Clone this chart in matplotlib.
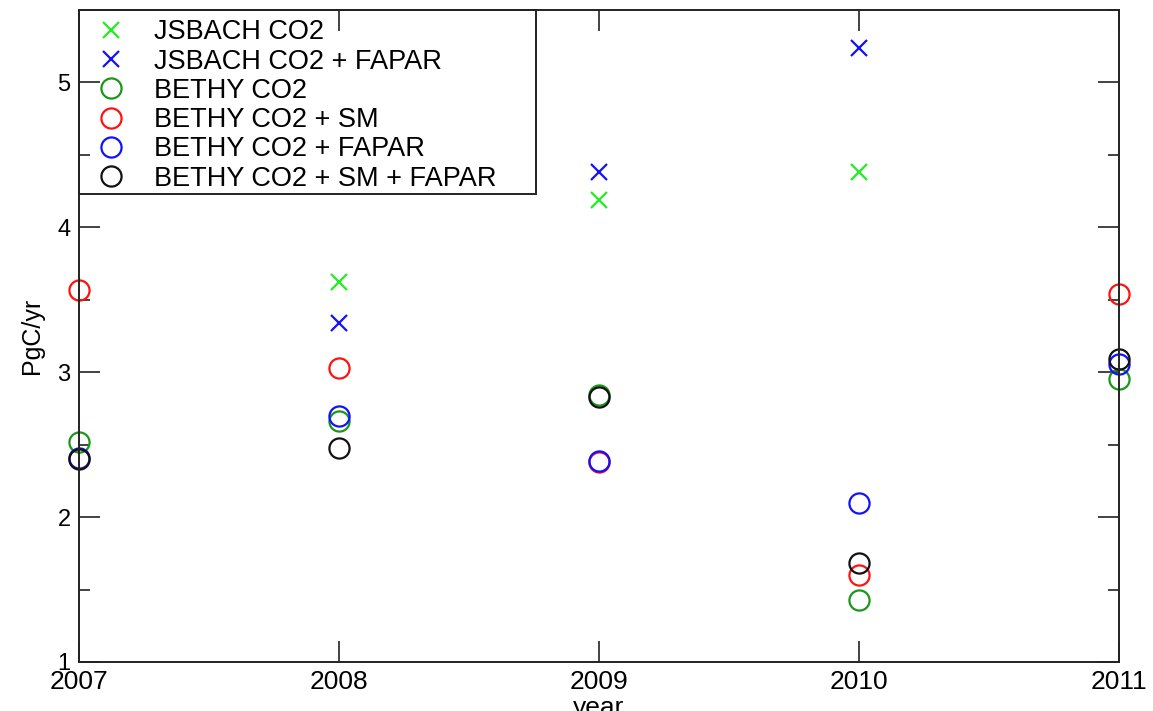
import matplotlib
matplotlib.use("Agg")
import matplotlib.pyplot as plt
from matplotlib.patches import Rectangle
from matplotlib.ticker import MultipleLocator, FixedLocator

plt.rcParams['font.family'] = ['Liberation Sans', 'DejaVu Sans']

years = [2007, 2008, 2009, 2010, 2011]

# JSBACH runs exist only for 2008-2010
jsbach_years = [2008, 2009, 2010]
jsbach_co2 = [3.62, 4.19, 4.38]
jsbach_co2_fapar = [3.34, 4.38, 5.24]

bethy_co2 = [2.52, 2.66, 2.84, 1.43, 2.95]
bethy_co2_sm = [3.57, 3.03, 2.38, 1.60, 3.54]
bethy_co2_fapar = [2.41, 2.70, 2.39, 2.10, 3.06]
bethy_co2_sm_fapar = [2.40, 2.48, 2.83, 1.68, 3.09]

W, H = 1153, 711
fig = plt.figure(figsize=(W / 100, H / 100), dpi=100)
ax = fig.add_axes([79 / W, 1 - 662 / H, (1119 - 79) / W, (662 - 10) / H])

x_style = dict(linestyle='none', marker='x', markersize=12, markeredgewidth=1.6, clip_on=False)
o_style = dict(linestyle='none', marker='o', markersize=14.5, markerfacecolor='none',
               markeredgewidth=1.6, clip_on=False)

ax.plot(jsbach_years, jsbach_co2, color='#22ee22', label='JSBACH CO2', **x_style)
ax.plot(jsbach_years, jsbach_co2_fapar, color='#1111ff', label='JSBACH CO2 + FAPAR', **x_style)
ax.plot(years, bethy_co2, color='#1a961a', label='BETHY CO2', **o_style)
ax.plot(years, bethy_co2_sm, color='#ff1111', label='BETHY CO2 + SM', **o_style)
ax.plot(years, bethy_co2_fapar, color='#1111ff', label='BETHY CO2 + FAPAR', **o_style)
ax.plot(years, bethy_co2_sm_fapar, color='#111111', label='BETHY CO2 + SM + FAPAR', **o_style)

ax.set_xlim(2007, 2011)
ax.set_ylim(1, 5.5)
ax.xaxis.set_major_locator(FixedLocator(years))
ax.set_xticklabels([str(y) for y in years])
ax.yaxis.set_major_locator(MultipleLocator(1))
ax.yaxis.set_minor_locator(MultipleLocator(0.5))

ax.tick_params(axis='both', which='both', direction='in', top=True, right=True,
               width=1.2, color='#222222')
ax.tick_params(axis='both', which='major', length=15)
ax.tick_params(axis='both', which='minor', length=8)
ax.tick_params(axis='x', pad=6, labelsize=19)
ax.tick_params(axis='y', pad=6, labelsize=17)
for s in ax.spines.values():
    s.set_linewidth(1.4)
    s.set_color('#222222')

ax.set_xlabel('year', fontsize=19, labelpad=1)
ax.set_ylabel('PgC/yr', fontsize=18, labelpad=10)

leg = ax.legend(loc='upper left', bbox_to_anchor=(79 / W, 1 - 10 / H),
                bbox_transform=fig.transFigure, fontsize=19.5, frameon=False,
                borderpad=0.35, labelspacing=0.12, handlelength=1.66,
                handletextpad=0.76, borderaxespad=0)
fig.patches.append(Rectangle((79 / W, 1 - 194 / H), (536 - 79) / W, (194 - 10) / H,
                             transform=fig.transFigure, fill=False,
                             edgecolor='#222222', linewidth=1.4, zorder=5))

fig.savefig('out.png', dpi=100)
